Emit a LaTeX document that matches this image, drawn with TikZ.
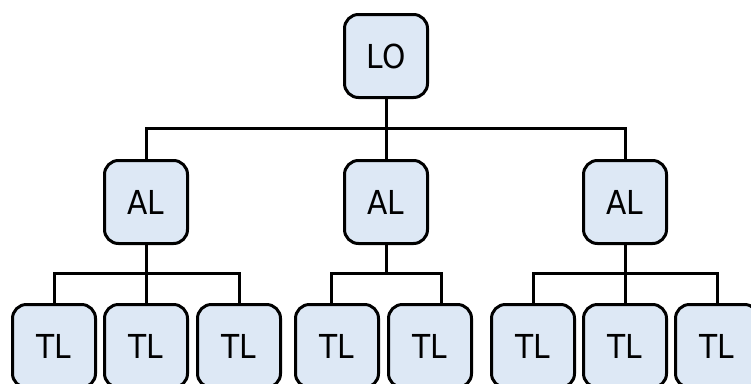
\documentclass[tikz,border=0pt]{standalone}
\usepackage{fontspec}
\setmainfont{DejaVu Sans Condensed}
\definecolor{boxblue}{RGB}{221,232,245}
\tikzset{
  unit/.style={draw=black, fill=boxblue, line width=3pt, rounded corners=14pt,
    minimum width=83pt, minimum height=83pt, inner sep=0pt,
    font=\fontsize{33}{36}\selectfont},
  link/.style={line width=3pt}
}
\begin{document}
\begin{tikzpicture}[x=1pt,y=-1pt]
\useasboundingbox (0,0) rectangle (751,383);

\node[unit] (lo) at (386,56) {LO};

\node[unit] (al1) at (146,202) {AL};
\node[unit] (al2) at (386,202) {AL};
\node[unit] (al3) at (625,202) {AL};

\node[unit] (tl1) at ( 54,346) {TL};
\node[unit] (tl2) at (146,346) {TL};
\node[unit] (tl3) at (239,346) {TL};
\node[unit] (tl4) at (337,346) {TL};
\node[unit] (tl5) at (430,346) {TL};
\node[unit] (tl6) at (533,346) {TL};
\node[unit] (tl7) at (625,346) {TL};
\node[unit] (tl8) at (717,346) {TL};

%Verbindungen
\coordinate (bus0) at (386,128);
\coordinate (bus1) at (146,273);
\coordinate (bus2) at (386,273);
\coordinate (bus3) at (625,273);

\draw[link] (lo) -- (bus0);
\draw[link] (al1.north) |- (bus0) -| (al3.north);
\draw[link] (bus0) -- (al2);

\draw[link] (al1) -- (bus1);
\draw[link] (tl1.north) |- (bus1) -| (tl3.north);
\draw[link] (bus1) -- (tl2);

\draw[link] (al2) -- (bus2);
\draw[link] ([xshift=-6pt]tl4.north) |- (bus2) -| ([xshift=11pt]tl5.north);

\draw[link] (al3) -- (bus3);
\draw[link] (tl6.north) |- (bus3) -| (tl8.north);
\draw[link] (bus3) -- (tl7);

\end{tikzpicture}
\end{document}
